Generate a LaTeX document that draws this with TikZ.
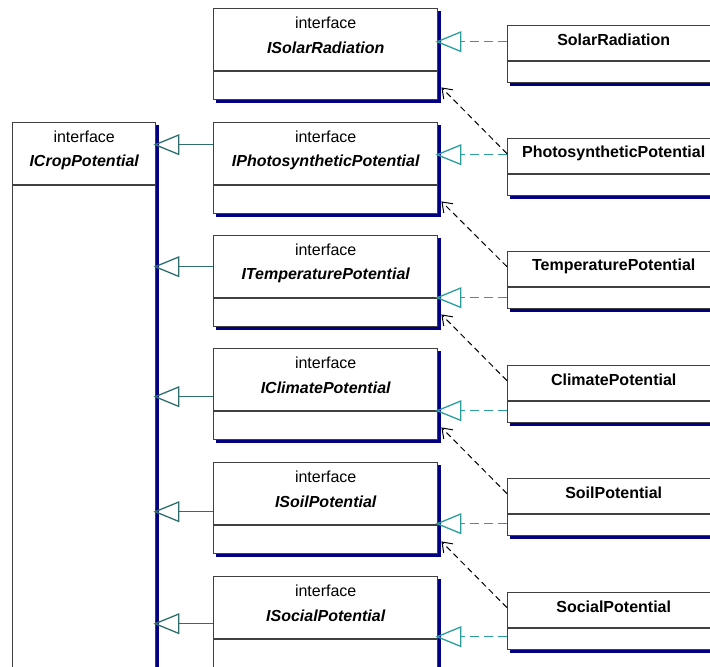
\documentclass[tikz,border=0pt]{standalone}
\usepackage{fontspec}
\setmainfont{Liberation Sans}
\usepackage{xcolor}
\usepackage{tikz}
\usetikzlibrary{arrows.meta,calc,shadows}
\definecolor{boxGray}{HTML}{404040}
\definecolor{shadowNavy}{HTML}{000080}
\definecolor{genTeal}{HTML}{2E6E6E}
\definecolor{realTeal}{HTML}{2A9D9D}

\begin{document}
\begin{tikzpicture}[
    x=1pt,y=-1pt,
    cls/.style={rectangle,draw=boxGray,fill=white,line width=1.4pt,
                inner sep=0pt,anchor=north west,
                copy shadow={shadow xshift=2.6pt,shadow yshift=-2.6pt,
                             draw=shadowNavy,fill=shadowNavy}},
    iface/.style={cls,minimum width=224pt,minimum height=91pt},
    impl/.style={cls,minimum width=212pt,minimum height=57pt},
    sep/.style={draw=boxGray,line width=1.4pt},
    stereo/.style={font=\fontsize{16}{18}\selectfont},
    iname/.style={font=\fontsize{16}{18}\selectfont\bfseries\itshape},
    cname/.style={font=\fontsize{16}{18}\selectfont\bfseries},
    gen/.style={-{Triangle[open,length=26pt,width=21pt]},line width=1.3pt,
                genTeal,shorten >=-3pt},
    real/.style={-{Triangle[open,length=26pt,width=21pt]},line width=1.3pt,
                 realTeal,dash pattern=on 9pt off 5pt,shorten >=-3pt},
    dep/.style={-{Straight Barb[length=9pt,width=13pt]},line width=1pt,
                dash pattern=on 6pt off 4pt}
  ]
  \useasboundingbox (0,0) rectangle (710,667);
  %% Root interface (left column)
  \node[cls,minimum width=143pt,minimum height=600pt] (icrop) at (12,122) {};
  \node[stereo] (icrop-st) at ($(icrop.north)+(0,15)$) {interface};
  \node[iname]  (icrop-nm) at ($(icrop.north)+(0,40)$) {ICropPotential};
  \draw[sep] ($(icrop.north west)+(0,63)$) -- ($(icrop.north east)+(0,63)$);
  %% Interfaces (middle column)
  \node[iface] (isolar)   at (213,8)   {};
  \node[iface] (iphoto)   at (213,122) {};
  \node[iface] (itemp)    at (213,235) {};
  \node[iface] (iclimate) at (213,348) {};
  \node[iface] (isoil)    at (213,462) {};
  \node[iface] (isocial)  at (213,576) {};
  \node[stereo] at ($(isolar.north)+(0,15)$)   {interface};
  \node[stereo] at ($(iphoto.north)+(0,15)$)   {interface};
  \node[stereo] at ($(itemp.north)+(0,15)$)    {interface};
  \node[stereo] at ($(iclimate.north)+(0,15)$) {interface};
  \node[stereo] at ($(isoil.north)+(0,15)$)    {interface};
  \node[stereo] at ($(isocial.north)+(0,15)$)  {interface};
  \node[iname] at ($(isolar.north)+(0,40)$)   {ISolarRadiation};
  \node[iname] at ($(iphoto.north)+(0,40)$)   {IPhotosyntheticPotential};
  \node[iname] at ($(itemp.north)+(0,40)$)    {ITemperaturePotential};
  \node[iname] at ($(iclimate.north)+(0,40)$) {IClimatePotential};
  \node[iname] at ($(isoil.north)+(0,40)$)    {ISoilPotential};
  \node[iname] at ($(isocial.north)+(0,40)$)  {ISocialPotential};
  \draw[sep] ($(isolar.north west)+(0,63)$)   -- ($(isolar.north east)+(0,63)$);
  \draw[sep] ($(iphoto.north west)+(0,63)$)   -- ($(iphoto.north east)+(0,63)$);
  \draw[sep] ($(itemp.north west)+(0,63)$)    -- ($(itemp.north east)+(0,63)$);
  \draw[sep] ($(iclimate.north west)+(0,63)$) -- ($(iclimate.north east)+(0,63)$);
  \draw[sep] ($(isoil.north west)+(0,63)$)    -- ($(isoil.north east)+(0,63)$);
  \draw[sep] ($(isocial.north west)+(0,63)$)  -- ($(isocial.north east)+(0,63)$);
  %% Classes (right column)
  \node[impl] (solar)   at (507,25)  {};
  \node[impl] (photo)   at (507,138) {};
  \node[impl] (temp)    at (507,251) {};
  \node[impl] (climate) at (507,365) {};
  \node[impl] (soil)    at (507,478) {};
  \node[impl] (social)  at (507,592) {};
  \node[cname] at ($(solar.north)+(0,15)$)   {SolarRadiation};
  \node[cname] at ($(photo.north)+(0,15)$)   {PhotosyntheticPotential};
  \node[cname] at ($(temp.north)+(0,15)$)    {TemperaturePotential};
  \node[cname] at ($(climate.north)+(0,15)$) {ClimatePotential};
  \node[cname] at ($(soil.north)+(0,15)$)    {SoilPotential};
  \node[cname] at ($(social.north)+(0,15)$)  {SocialPotential};
  \draw[sep] ($(solar.north west)+(0,36)$)   -- ($(solar.north east)+(0,36)$);
  \draw[sep] ($(photo.north west)+(0,36)$)   -- ($(photo.north east)+(0,36)$);
  \draw[sep] ($(temp.north west)+(0,36)$)    -- ($(temp.north east)+(0,36)$);
  \draw[sep] ($(climate.north west)+(0,36)$) -- ($(climate.north east)+(0,36)$);
  \draw[sep] ($(soil.north west)+(0,36)$)    -- ($(soil.north east)+(0,36)$);
  \draw[sep] ($(social.north west)+(0,36)$)  -- ($(social.north east)+(0,36)$);
  %% Generalization (interface extends ICropPotential)
  \draw[gen] ([yshift=23.5pt]iphoto.west)   coordinate (g1) -- (g1 -| icrop.east);
  \draw[gen] ([yshift=14.5pt]itemp.west)    coordinate (g2) -- (g2 -| icrop.east);
  \draw[gen] ([yshift=-2.5pt]iclimate.west) coordinate (g3) -- (g3 -| icrop.east);
  \draw[gen] ([yshift=-3.5pt]isoil.west)    coordinate (g4) -- (g4 -| icrop.east);
  \draw[gen] ([yshift=-1.5pt]isocial.west)  coordinate (g5) -- (g5 -| icrop.east);
  %% Realization (class implements interface)
  \draw[real] ([yshift=12.5pt]solar.west)    coordinate (r1) -- (r1 -| isolar.east);
  \draw[real] ([yshift=12.5pt]photo.west)    coordinate (r2) -- (r2 -| iphoto.east);
  \draw[real] ([yshift=-17.5pt]temp.west)    coordinate (r3) -- (r3 -| itemp.east);
  \draw[real] ([yshift=-16.5pt]climate.west) coordinate (r4) -- (r4 -| iclimate.east);
  \draw[real] ([yshift=-16.5pt]soil.west)    coordinate (r5) -- (r5 -| isoil.east);
  \draw[real] ([yshift=-15.5pt]social.west)  coordinate (r6) -- (r6 -| isocial.east);
  %% Dependencies (class uses previous interface)
  \draw[dep] ([yshift=13.5pt]photo.west)   -- ([xshift=3pt,yshift=13pt]isolar.south east);
  \draw[dep] ([yshift=13.5pt]temp.west)    -- ([xshift=3pt,yshift=13pt]iphoto.south east);
  \draw[dep] ([yshift=13.5pt]climate.west) -- ([xshift=3pt,yshift=13pt]itemp.south east);
  \draw[dep] ([yshift=13.5pt]soil.west)    -- ([xshift=3pt,yshift=13pt]iclimate.south east);
  \draw[dep] ([yshift=13.5pt]social.west)  -- ([xshift=3pt,yshift=13pt]isoil.south east);
\end{tikzpicture}
\end{document}
